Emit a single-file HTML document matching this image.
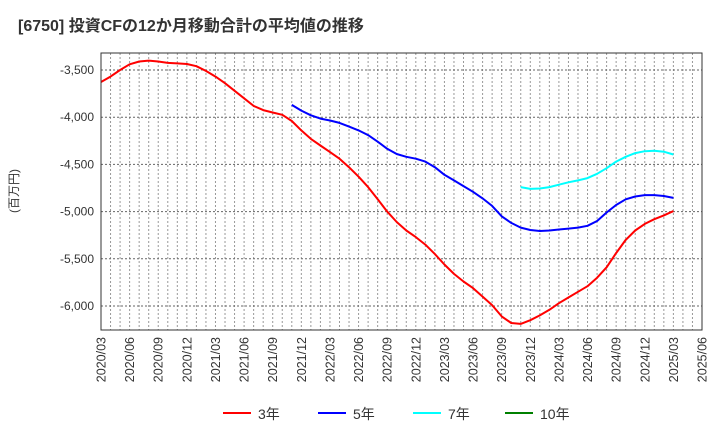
<!DOCTYPE html>
<html><head><meta charset="utf-8"><style>
body{margin:0;background:#fff;}
svg{display:block;font-family:"Liberation Sans","Noto Sans CJK JP",sans-serif;}
</style></head><body>
<svg id="chart" width="720" height="440" viewBox="0 0 720 440">
<text x="18" y="31" font-size="16" font-weight="bold" fill="#333">[6750]  投資CFの12か月移動合計の平均値の推移</text>
<text transform="translate(18,191) rotate(-90)" font-size="12" fill="#333" text-anchor="middle">(百万円)</text>
<g id="grid"></g>
<g id="series"></g>
<rect x="101" y="53" width="601" height="277" fill="none" stroke="#333" stroke-width="1"/>
<g id="yticks"></g>
<g id="xticks"></g>
<g id="legend"></g>
</svg>
<script>
const yTicks=[-3500,-4000,-4500,-5000,-5500,-6000];
const xLabels=["2020/03","2020/06","2020/09","2020/12","2021/03","2021/06","2021/09","2021/12","2022/03","2022/06","2022/09","2022/12","2023/03","2023/06","2023/09","2023/12","2024/03","2024/06","2024/09","2024/12","2025/03","2025/06"];
const red3=[-3627,-3570,-3500,-3440,-3410,-3400,-3410,-3425,-3430,-3436,-3460,-3510,-3570,-3640,-3720,-3800,-3880,-3925,-3950,-3975,-4040,-4140,-4230,-4300,-4370,-4440,-4530,-4630,-4740,-4870,-5000,-5110,-5200,-5270,-5350,-5450,-5560,-5660,-5740,-5810,-5900,-5990,-6110,-6180,-6190,-6150,-6100,-6040,-5970,-5910,-5850,-5790,-5700,-5590,-5440,-5300,-5200,-5130,-5080,-5040,-4995];
const blue5Start=20;
const blue5=[-3870,-3930,-3980,-4015,-4035,-4060,-4100,-4140,-4190,-4260,-4335,-4390,-4420,-4440,-4470,-4530,-4610,-4670,-4730,-4790,-4860,-4940,-5050,-5120,-5170,-5195,-5205,-5200,-5190,-5180,-5170,-5150,-5100,-5010,-4930,-4870,-4840,-4825,-4825,-4835,-4855];
const cyan7Start=44;
const cyan7=[-4740,-4760,-4755,-4740,-4715,-4690,-4670,-4645,-4600,-4540,-4470,-4420,-4380,-4360,-4355,-4365,-4395];
const green10=[];
const legendNames=["3年","5年","7年","10年"];
const legendColors=["#ff0000","#0000ff","#00ffff","#008000"];

const NS="http://www.w3.org/2000/svg";
const L=101,R=702,T=53,B=330,NM=63;
const xm=i=>L+i*(R-L)/NM;
const yv=v=>70+(-3500-v)/1000*94.4;
function mk(tag,attrs,parent){const e=document.createElementNS(NS,tag);for(const k in attrs)e.setAttribute(k,attrs[k]);parent.appendChild(e);return e;}
const grid=document.getElementById('grid');
for(let i=1;i<NM;i++){const l=mk('line',{x1:xm(i),x2:xm(i),y1:T,y2:B,stroke:'#999','stroke-dasharray':'2,2','stroke-width':1},grid);

}
const yt=document.getElementById('yticks');
yTicks.forEach(v=>{const y=yv(v);const l=mk('line',{x1:L,x2:R,y1:y,y2:y,stroke:'#666','stroke-dasharray':'2,2','stroke-width':1},grid);

});
yTicks.forEach(v=>{const t=mk('text',{x:94,y:yv(v)+4,'text-anchor':'end','font-size':12,fill:'#333'},yt);t.textContent=v.toLocaleString('en-US');

});
const xt=document.getElementById('xticks');
xLabels.forEach((s,k)=>{const x=xm(k*3);const t=mk('text',{transform:`translate(${x+4.5},337) rotate(-90)`,'text-anchor':'end','font-size':12.5,fill:'#333'},xt);t.textContent=s;

});
const ser=document.getElementById('series');
function line(arr,start,color,name){if(!arr.length)return;const pts=arr.map((v,i)=>xm(start+i).toFixed(1)+','+yv(v).toFixed(1)).join(' ');
const p=mk('polyline',{points:pts,fill:'none',stroke:color,'stroke-width':2,'stroke-linejoin':'round'},ser);

}
line(red3,0,legendColors[0],'line-3yr');
line(blue5,blue5Start,legendColors[1],'line-5yr');
line(cyan7,cyan7Start,legendColors[2],'line-7yr');
line(green10,0,legendColors[3],'line-10yr');
const lg=document.getElementById('legend');
const lx=[223,318,413,505];
legendNames.forEach((n,i)=>{const g=mk('g',{},lg);


mk('line',{x1:lx[i],x2:lx[i]+28,y1:413,y2:413,stroke:legendColors[i],'stroke-width':2},g);
const t=mk('text',{x:lx[i]+35,y:419,'font-size':14,fill:'#333'},g);t.textContent=n;});
</script>
</body></html>
